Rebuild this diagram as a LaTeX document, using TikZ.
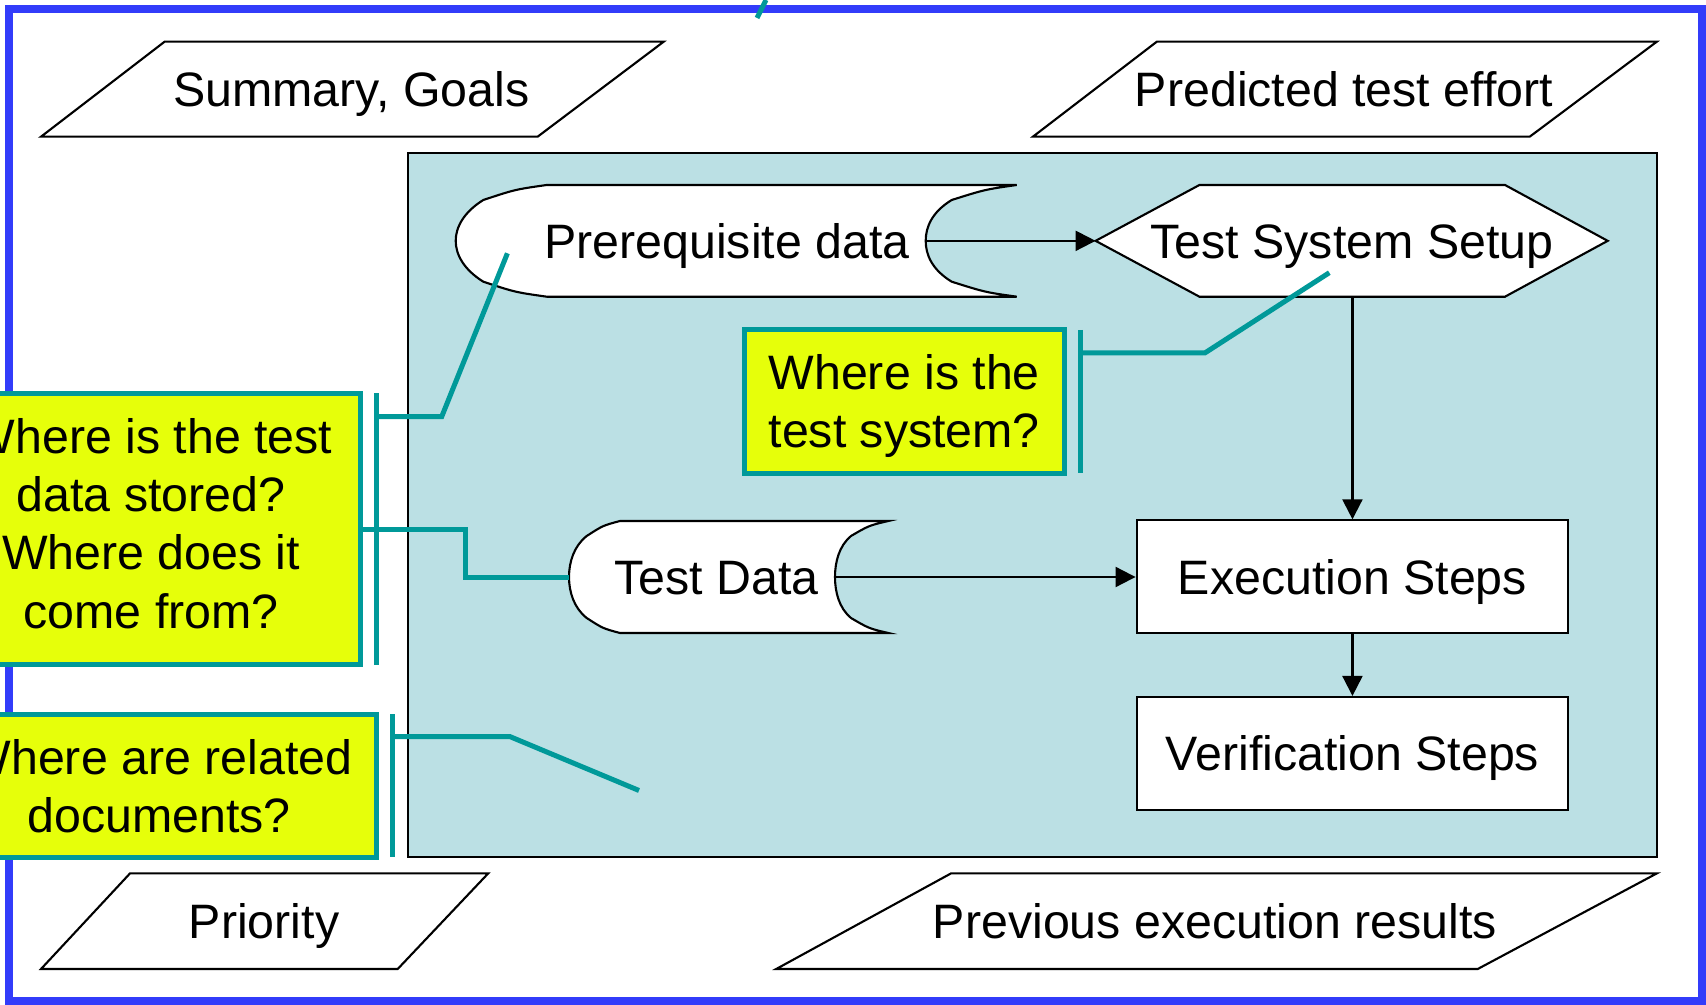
\documentclass[tikz,border=0pt]{standalone}
\usepackage{fontspec}
\setmainfont{Liberation Sans}
\usetikzlibrary{arrows.meta}
\definecolor{frameblue}{RGB}{50,60,250}
\definecolor{poolblue}{RGB}{187,224,228}
\definecolor{noteteal}{RGB}{0,153,153}
\definecolor{noteyellow}{RGB}{230,255,10}
\tikzset{
	para/.style={draw=black,fill=white,line width=0.6pt},
	store/.style={draw=black,fill=white,line width=0.6pt},
	txt/.style={inner sep=0pt,text height=9.85pt,text depth=0pt,font=\fontsize{13.75}{16.55}\selectfont},
	stepbox/.style={txt,draw=black,fill=white,line width=0.6pt,minimum width=4.317cm,minimum height=1.13cm},
	note/.style={draw=noteteal,fill=noteyellow,line width=0.05cm,align=center,inner sep=0pt,text depth=0pt,font=\fontsize{13.75}{16.55}\selectfont},
	bar/.style={draw=noteteal,line width=0.05cm},
	flow/.style={-{Triangle[length=2mm,width=2mm]},line width=0.6pt},
}
\begin{document}
\begin{tikzpicture}
	\useasboundingbox (0,0) rectangle (17.06,-10.05);
	\draw[frameblue,line width=0.08cm] (0.085,-0.09) rectangle (17.02,-10.01);
	\coordinate (stubA) at (7.66,0);
	\coordinate (stubB) at (7.57,-0.18);
	\draw[bar] (stubA) -- (stubB);

	% test case area
	\draw[fill=poolblue,line width=0.5pt] (4.083,-1.533) rectangle (16.568,-8.57);

	% header and footer fields
	\draw[para] (1.646,-0.417) -- (6.637,-0.417) -- (5.376,-1.367) -- (0.41,-1.367) -- cycle;
	\node[txt] (sum) at (3.515,-0.892) {Summary, Goals};
	\draw[para] (11.568,-0.417) -- (16.568,-0.417) -- (15.297,-1.367) -- (10.329,-1.367) -- cycle;
	\node[txt] (pred) at (13.44,-0.892) {Predicted test effort};
	\draw[para] (1.30,-8.734) -- (4.882,-8.734) -- (3.977,-9.69) -- (0.41,-9.69) -- cycle;
	\node[txt] (prio) at (2.64,-9.212) {Priority};
	\draw[para] (9.51,-8.734) -- (16.568,-8.734) -- (14.777,-9.69) -- (7.762,-9.69) -- cycle;
	\node[txt] (prev) at (12.15,-9.212) {Previous execution results};

	% stored data shapes
	\draw[store] (5.467,-1.85) -- (10.167,-1.85) .. controls (9.85,-1.895) .. (9.517,-2.0)
		.. controls (9.32,-2.12) and (9.257,-2.27) .. (9.257,-2.4085)
		.. controls (9.257,-2.547) and (9.32,-2.697) .. (9.517,-2.817)
		.. controls (9.85,-2.922) .. (10.167,-2.967) -- (5.467,-2.967)
		.. controls (5.15,-2.922) .. (4.833,-2.817)
		.. controls (4.64,-2.697) and (4.557,-2.547) .. (4.557,-2.4085)
		.. controls (4.557,-2.27) and (4.64,-2.12) .. (4.833,-2.0)
		.. controls (5.15,-1.895) .. (5.467,-1.85) -- cycle;
	\node[txt] (prq) at (7.27,-2.4085) {Prerequisite data};
	\coordinate (prqE) at (9.257,-2.4085);
	\draw[store] (6.20,-5.21) -- (8.883,-5.21) .. controls (8.69,-5.255) .. (8.51,-5.36)
		.. controls (8.39,-5.46) and (8.35,-5.62) .. (8.35,-5.77)
		.. controls (8.35,-5.92) and (8.39,-6.08) .. (8.51,-6.18)
		.. controls (8.69,-6.285) .. (8.883,-6.33) -- (6.20,-6.33)
		.. controls (6.03,-6.285) .. (5.867,-6.18)
		.. controls (5.74,-6.08) and (5.69,-5.92) .. (5.69,-5.77)
		.. controls (5.69,-5.62) and (5.74,-5.46) .. (5.867,-5.36)
		.. controls (6.03,-5.255) .. (6.20,-5.21) -- cycle;
	\node[txt] (tdata) at (7.165,-5.77) {Test Data};
	\coordinate (tdW) at (5.69,-5.77);
	\coordinate (tdE) at (8.35,-5.77);

	% setup hexagon
	\draw[store] (10.956,-2.4085) -- (11.994,-1.85) -- (15.05,-1.85) -- (16.077,-2.4085)
		-- (15.05,-2.967) -- (11.994,-2.967) -- cycle;
	\node[txt] (setup) at (13.52,-2.4085) {Test System Setup};
	\coordinate (setupW) at (10.956,-2.4085);
	\coordinate (setupS) at (13.5245,-2.967);

	\node[stepbox] (exec) at (13.5245,-5.769) {Execution Steps};
	\node[stepbox] (verif) at (13.5245,-7.535) {Verification Steps};

	\draw (prqE) edge[flow] (setupW);
	\draw (setupS) edge[flow] (exec.north);
	\draw (tdE) edge[flow] (tdE -| exec.west);
	\draw (exec) edge[flow] (verif);

	% questions
	\node[note,text height=26.4pt,minimum width=3.20cm,minimum height=1.44cm] (qsys) at (9.042,-4.012) {Where is the\\test system?};
	\draw[bar] (10.807,-3.30) -- (10.807,-4.73);
	\coordinate (sysBar) at (10.807,-3.53);
	\coordinate (sysTip) at (13.293,-2.727);
	\draw[bar] (sysBar) -- (12.048,-3.53) -- (sysTip);

	\node[note,text height=59.5pt,text depth=3.1pt,minimum width=4.182cm,minimum height=2.71cm] (qdata) at (1.511,-5.29) {Where is the test\\data stored?\\Where does it\\come from?};
	\draw[bar] (3.76,-3.933) -- (3.76,-6.65);
	\coordinate (dataBar) at (3.76,-4.167);
	\coordinate (dataTip) at (5.074,-2.533);
	\draw[bar] (dataBar) -- (4.417,-4.167) -- (dataTip);
	\coordinate (dataOut) at (3.62,-5.295);
	\draw[bar] (dataOut) -- (4.652,-5.295) |- (tdW);

	\node[note,text height=26.4pt,minimum width=4.356cm,minimum height=1.433cm] (qdocs) at (1.59,-7.859) {Where are related\\documents?};
	\draw[bar] (3.923,-7.14) -- (3.923,-8.567);
	\coordinate (docsBar) at (3.923,-7.367);
	\coordinate (docsTip) at (6.39,-7.905);
	\draw[bar] (docsBar) -- (5.102,-7.367) -- (docsTip);
\end{tikzpicture}
\end{document}
